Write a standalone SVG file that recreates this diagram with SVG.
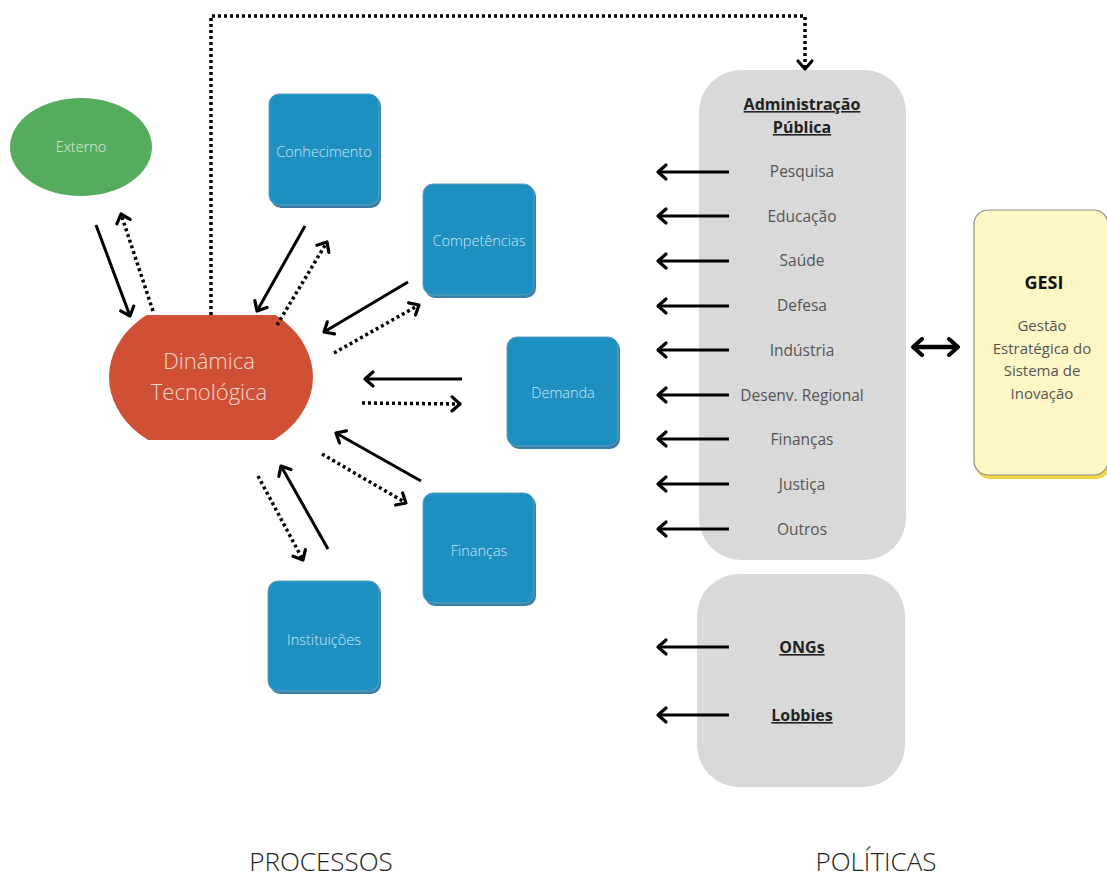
<svg xmlns="http://www.w3.org/2000/svg" width="1107" height="879" viewBox="0 0 1107 879">
  <style>
    text { font-family: "Open Sans", "Liberation Sans", sans-serif; }
    .box { fill: #1e8fc1; stroke: #5a9fc0; stroke-width: 1; }
    .boxsh { fill: #3c7fa6; }
    .boxtxt { fill: #cfe8f5; font-size: 14.5px; font-weight: 300; text-anchor: middle; }
    .panel { fill: #d9d9d9; }
    .item { fill: #555; font-size: 15.5px; text-anchor: middle; }
    .head { fill: #222; font-size: 16px; font-weight: bold; text-anchor: middle; text-decoration: underline; }
    .solid { stroke: #000; stroke-width: 3; fill: none; marker-end: url(#chev); }
    .dot { stroke: #000; stroke-width: 3.5; stroke-dasharray: 3 3; fill: none; marker-end: url(#chev); }
    .foot { fill: #222; font-size: 26px; font-weight: 300; text-anchor: middle; }
  </style>
  <defs>
    <marker id="chev" markerUnits="userSpaceOnUse" viewBox="-12 -10 16 20" refX="0" refY="0" markerWidth="16" markerHeight="20" orient="auto">
      <path d="M-8,-7 L0,0 L-8,7" fill="none" stroke="#000" stroke-width="3.2" stroke-linecap="round" stroke-linejoin="round"/>
    </marker>
    <marker id="chevStart" markerUnits="userSpaceOnUse" viewBox="-12 -10 16 20" refX="0" refY="0" markerWidth="16" markerHeight="20" orient="auto-start-reverse">
      <path d="M-9,-8 L0,0 L-9,8" fill="none" stroke="#000" stroke-width="4" stroke-linecap="round" stroke-linejoin="round"/>
    </marker>
    <clipPath id="dinClip">
      <rect x="100" y="315" width="230" height="125"/>
    </clipPath>
  </defs>

  <!-- Processes side -->
  <g id="externo">
    <ellipse cx="81" cy="147" rx="71" ry="49" fill="#55ac5c"/>
    <text x="81" y="152" class="boxtxt" style="fill:#dff0df">Externo</text>
  </g>

  <g id="dinamica">
    <ellipse cx="211" cy="377" rx="102" ry="80" fill="#d05035" clip-path="url(#dinClip)"/>
    <text x="209" y="369" text-anchor="middle" font-size="22" font-weight="300" fill="#f6d8ce">Dinâmica</text>
    <text x="209" y="400" text-anchor="middle" font-size="22" font-weight="300" fill="#f6d8ce">Tecnológica</text>
  </g>

  <g id="conhecimento">
    <rect x="271" y="96" width="110" height="112" rx="10" class="boxsh"/>
    <rect x="269" y="94" width="110" height="111" rx="10" class="box"/>
    <text x="324" y="157" class="boxtxt">Conhecimento</text>
  </g>

  <g id="competencias">
    <rect x="425" y="186" width="111" height="112" rx="10" class="boxsh"/>
    <rect x="423" y="184" width="111" height="111" rx="10" class="box"/>
    <text x="479" y="246" class="boxtxt">Competências</text>
  </g>

  <g id="demanda">
    <rect x="509" y="339" width="111" height="110" rx="10" class="boxsh"/>
    <rect x="507" y="337" width="111" height="109" rx="10" class="box"/>
    <text x="563" y="398" class="boxtxt">Demanda</text>
  </g>

  <g id="financas">
    <rect x="425" y="495" width="111" height="111" rx="10" class="boxsh"/>
    <rect x="423" y="493" width="111" height="110" rx="10" class="box"/>
    <text x="479" y="556" class="boxtxt">Finanças</text>
  </g>

  <g id="instituicoes">
    <rect x="270" y="583" width="111" height="111" rx="10" class="boxsh"/>
    <rect x="268" y="581" width="111" height="110" rx="10" class="box"/>
    <text x="324" y="645" class="boxtxt">Instituições</text>
  </g>

  <!-- Policies side -->
  <g id="administracao">
    <rect x="699" y="70" width="207" height="490" rx="42" class="panel"/>
    <text x="802" y="110" class="head">Administração</text>
    <text x="802" y="133" class="head">Pública</text>
    <text x="802" y="177" class="item">Pesquisa</text>
    <text x="802" y="222" class="item">Educação</text>
    <text x="802" y="266" class="item">Saúde</text>
    <text x="802" y="311" class="item">Defesa</text>
    <text x="802" y="356" class="item">Indústria</text>
    <text x="802" y="401" class="item">Desenv. Regional</text>
    <text x="802" y="445" class="item">Finanças</text>
    <text x="802" y="490" class="item">Justiça</text>
    <text x="802" y="535" class="item">Outros</text>
  </g>

  <g id="sociedade">
    <rect x="697" y="574" width="208" height="213" rx="42" class="panel"/>
    <text x="802" y="653" class="head">ONGs</text>
    <text x="802" y="721" class="head">Lobbies</text>
  </g>

  <g id="gesi">
    <rect x="976" y="213" width="134" height="266" rx="14" fill="#f2d648"/>
    <rect x="974" y="210" width="134" height="265" rx="14" fill="#fdf7c6" stroke="#8e8e86" stroke-width="1.2"/>
    <text x="1044" y="289" text-anchor="middle" font-size="18" font-weight="bold" fill="#111">GESI</text>
    <text x="1042" y="331" text-anchor="middle" font-size="15" fill="#555">Gestão</text>
    <text x="1042" y="354" text-anchor="middle" font-size="15" fill="#555">Estratégica do</text>
    <text x="1042" y="376" text-anchor="middle" font-size="15" fill="#555">Sistema de</text>
    <text x="1042" y="399" text-anchor="middle" font-size="15" fill="#555">Inovação</text>
  </g>

  <!-- Connectors -->
  <g id="connectors">
    <!-- Externo -->
    <line x1="96" y1="225" x2="130" y2="316" class="solid"/>
    <line x1="153" y1="311" x2="121" y2="214" class="dot"/>
    <!-- Conhecimento -->
    <line x1="305" y1="226" x2="257" y2="311" class="solid"/>
    <line x1="277" y1="325" x2="327" y2="242" class="dot"/>
    <!-- Competências -->
    <line x1="408" y1="282" x2="324" y2="332" class="solid"/>
    <line x1="334" y1="353" x2="419" y2="305" class="dot"/>
    <!-- Demanda -->
    <line x1="462" y1="379" x2="365" y2="379" class="solid"/>
    <line x1="362" y1="403" x2="460" y2="404" class="dot"/>
    <!-- Finanças -->
    <line x1="421" y1="481" x2="336" y2="433" class="solid"/>
    <line x1="322" y1="454" x2="406" y2="503" class="dot"/>
    <!-- Instituições -->
    <line x1="328" y1="549" x2="281" y2="466" class="solid"/>
    <line x1="258" y1="476" x2="303" y2="560" class="dot"/>
    <!-- Dinâmica to Administração -->
    <polyline points="211,315 211,16 805,16 805,69" class="dot"/>
    <!-- Administração items -->
    <line x1="729" y1="172" x2="658" y2="172" class="solid"/>
    <line x1="729" y1="216" x2="658" y2="216" class="solid"/>
    <line x1="729" y1="261" x2="658" y2="261" class="solid"/>
    <line x1="729" y1="306" x2="658" y2="306" class="solid"/>
    <line x1="729" y1="350" x2="658" y2="350" class="solid"/>
    <line x1="729" y1="395" x2="658" y2="395" class="solid"/>
    <line x1="729" y1="439" x2="658" y2="439" class="solid"/>
    <line x1="729" y1="484" x2="658" y2="484" class="solid"/>
    <line x1="729" y1="529" x2="658" y2="529" class="solid"/>
    <line x1="729" y1="647" x2="658" y2="647" class="solid"/>
    <line x1="729" y1="715" x2="658" y2="715" class="solid"/>
    <!-- GESI link -->
    <line x1="913" y1="347" x2="958" y2="347" stroke="#000" stroke-width="4.5" marker-start="url(#chevStart)" marker-end="url(#chevStart)"/>
  </g>

  <text x="321" y="871" class="foot">PROCESSOS</text>
  <text x="876" y="871" class="foot">POLÍTICAS</text>
</svg>
